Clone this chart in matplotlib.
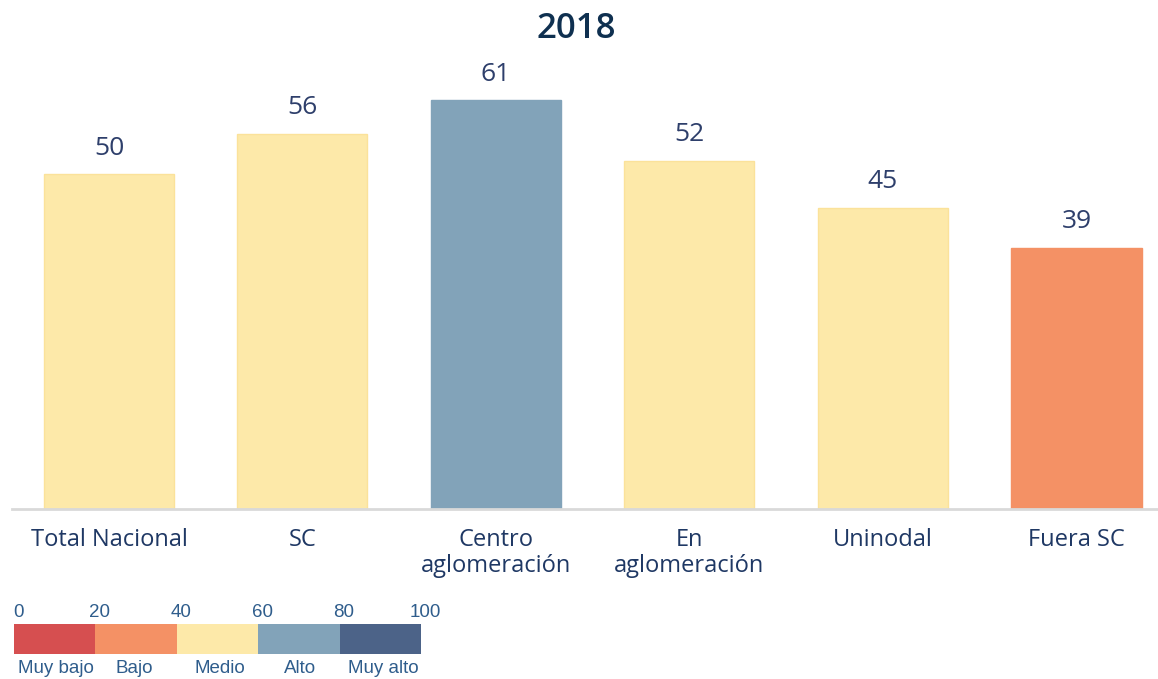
import matplotlib
matplotlib.use("Agg")
import matplotlib.pyplot as plt
from matplotlib.patches import Rectangle

categories = ["Total Nacional", "SC", "Centro\naglomeración", "En\naglomeración", "Uninodal", "Fuera SC"]
values = [50, 56, 61, 52, 45, 39]
title = "2018"

scale_edges = [0, 20, 40, 60, 80, 100]
scale_labels = ["Muy bajo", "Bajo", "Medio", "Alto", "Muy alto"]
scale_colors = ["#D64F50", "#F49165", "#FDE9A9", "#82A3B9", "#4C6388"]


def color_for(v):
    for i in range(len(scale_colors)):
        if scale_edges[i] <= v < scale_edges[i + 1]:
            return scale_colors[i]
    return scale_colors[-1]


W, H = 1158, 679
fig = plt.figure(figsize=(W / 100, H / 100), dpi=100)

# main axes
ax = fig.add_axes([12 / W, (H - 509) / H, (1157 - 12) / W, (509 - 40) / H])
x = list(range(len(categories)))
cols = [color_for(v) for v in values]
edgecols = ["#FBE29A" if c == "#FDE9A9" else c for c in cols]
ax.bar(x, values, width=0.672, color=cols, edgecolor=edgecols, linewidth=1.0, zorder=2)
ax.set_xlim(-0.501, 5.416)
ax.set_ylim(0, 70)
for s in ["top", "right", "left"]:
    ax.spines[s].set_visible(False)
ax.spines["bottom"].set_color("#D9D9D9")
ax.spines["bottom"].set_linewidth(2)
ax.set_yticks([])
ax.set_xticks(x)
ax.set_xticklabels(categories, fontsize=17, color="#1F3864", family="Open Sans", linespacing=1.1)
ax.tick_params(axis="x", length=0, pad=14)
for xi, v in zip(x, values):
    ax.text(xi, v + 2.0, str(v), ha="center", va="bottom", fontsize=19, color="#2E3F6B", family="Open Sans")

fig.text(576 / W, 1 - 29 / H, title, ha="center", va="center", fontsize=25, fontweight="semibold",
         color="#0F3050", family="Open Sans")

# scale legend
lax = fig.add_axes([14 / W, (H - 654) / H, (421 - 14) / W, (654 - 624) / H])
for i, c in enumerate(scale_colors):
    lax.add_patch(Rectangle((scale_edges[i], 0), scale_edges[i + 1] - scale_edges[i], 1,
                            facecolor=c, edgecolor="none"))
lax.set_xlim(0, 100)
lax.set_ylim(0, 1)
lax.axis("off")
for e in scale_edges:
    lax.text(e + 1.0, 1.1, str(e), ha="center", va="bottom", fontsize=13.5, color="#2F5D8C",
             family="Liberation Sans")
label_x = [10.2, 29.5, 50.6, 70.3, 90.8]
for lx, lb in zip(label_x, scale_labels):
    lax.text(lx, -0.2, lb, ha="center", va="top", fontsize=13.5, color="#2F5D8C", family="Liberation Sans")

fig.savefig("out.png", dpi=100, facecolor="white")
